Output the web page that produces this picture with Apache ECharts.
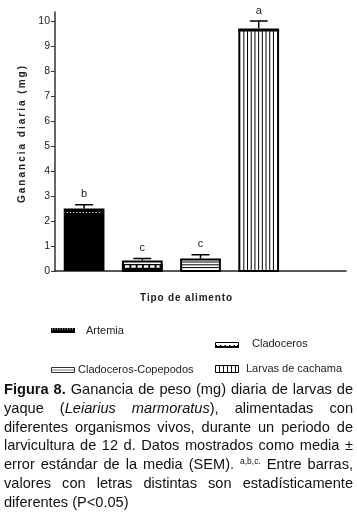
<!DOCTYPE html>
<html>
<head>
<meta charset="utf-8">
<script src="https://cdn.jsdelivr.net/npm/echarts@6/dist/echarts.min.js"></script>
<style>
html, body { margin: 0; padding: 0; background: #fff; }
#chart { width: 357px; height: 513px; }
</style>
</head>
<body>
<div id="chart"></div>
<script>
// datos
let foodTypes = ["Artemia", "Cladoceros", "Cladoceros-Copepodos", "Larvas de cachama"];
let dailyGain = [2.5, 0.42, 0.5, 9.7];
let gainSem = [0.15, 0.08, 0.15, 0.3];
let groupLetters = ["b", "c", "c", "a"];
let yTicks = [0, 1, 2, 3, 4, 5, 6, 7, 8, 9, 10];

const FONT = '"Liberation Sans", Arial, sans-serif';
const THIN = "\u2009";
const HAIR = "\u200A";

function spaced(str, sep) {
    return str.split("").join(sep);
}

// barra con su trama, barra de error y letra
function drawBar(params, api) {
    let i = params.dataIndex;
    let cat = api.value(0);
    let v = api.value(1);
    let e = api.value(2);
    let top = api.coord([cat, v]);
    let base = api.coord([cat, 0]);
    let errTop = api.coord([cat, v + e]);
    let w = api.size([1, 0])[0] * 0.7;
    let cx = top[0];
    let x = cx - w / 2;
    let h = base[1] - top[1];
    let kids = [];
    let blk = "#000";

    if (i === 0) {
        kids.push({type: "rect", shape: {x: x, y: top[1], width: w, height: h}, style: {fill: blk}});
        kids.push({type: "line", shape: {x1: x + 3, y1: top[1] + 4, x2: x + w - 3, y2: top[1] + 4},
            style: {stroke: "#fff", lineWidth: 1, lineDash: [1.2, 2]}});
    } else if (i === 1) {
        kids.push({type: "rect", shape: {x: x + 1, y: top[1] + 1, width: w - 2, height: h - 1},
            style: {fill: "#fff", stroke: blk, lineWidth: 2}});
        kids.push({type: "rect", shape: {x: x, y: base[1] - 7, width: w, height: 7}, style: {fill: blk}});
        kids.push({type: "line", shape: {x1: x + 3, y1: base[1] - 4.5, x2: x + w - 3, y2: base[1] - 4.5},
            style: {stroke: "#fff", lineWidth: 2.5, lineDash: [4.5, 1.8]}});
    } else if (i === 2) {
        kids.push({type: "rect", shape: {x: x + 1, y: top[1] + 1, width: w - 2, height: h - 1},
            style: {fill: "#fff", stroke: blk, lineWidth: 2}});
        for (let yy = top[1] + 3.5; yy < base[1] - 1; yy += 2.8) {
            kids.push({type: "line", shape: {x1: x + 2, y1: yy, x2: x + w - 2, y2: yy},
                style: {stroke: blk, lineWidth: 1}});
        }
    } else {
        kids.push({type: "rect", shape: {x: x + 1, y: top[1] + 1.5, width: w - 2, height: h - 1.5},
            style: {fill: "#fff", stroke: blk, lineWidth: 2}});
        kids.push({type: "line", shape: {x1: x, y1: top[1] + 1.5, x2: x + w, y2: top[1] + 1.5},
            style: {stroke: blk, lineWidth: 3}});
        for (let xx = x + 5.5; xx < x + w - 2; xx += 3.7) {
            kids.push({type: "line", shape: {x1: xx, y1: top[1] + 2, x2: xx, y2: base[1]},
                style: {stroke: blk, lineWidth: 1}});
        }
    }

    // error estandar
    kids.push({type: "line", shape: {x1: cx, y1: top[1], x2: cx, y2: errTop[1]},
        style: {stroke: blk, lineWidth: 1.5}});
    kids.push({type: "line", shape: {x1: cx - 9, y1: errTop[1], x2: cx + 9, y2: errTop[1]},
        style: {stroke: blk, lineWidth: 1.5}});
    kids.push({type: "text", style: {text: groupLetters[i], x: cx, y: errTop[1] - 5,
        align: "center", verticalAlign: "bottom", font: "11px " + FONT, fill: "#222"}});

    return {type: "group", children: kids};
}

// leyenda a mano (tramas distintas)
function legendGraphics() {
    let g = [];
    let blk = "#000";
    // Artemia
    g.push({type: "rect", shape: {x: 51, y: 328, width: 24, height: 5}, style: {fill: blk}});
    g.push({type: "line", shape: {x1: 52, y1: 329, x2: 74, y2: 329}, style: {stroke: "#fff", lineWidth: 1, lineDash: [1, 1.5]}});
    // Cladoceros
    g.push({type: "rect", shape: {x: 215.5, y: 342.5, width: 23, height: 5}, style: {fill: "#fff", stroke: blk, lineWidth: 1}});
    g.push({type: "rect", shape: {x: 215, y: 345, width: 24, height: 3}, style: {fill: blk}});
    g.push({type: "line", shape: {x1: 217, y1: 345.5, x2: 237, y2: 345.5}, style: {stroke: "#fff", lineWidth: 1.2, lineDash: [3, 1.5]}});
    // Cladoceros-Copepodos
    g.push({type: "rect", shape: {x: 51.5, y: 367.5, width: 23, height: 5}, style: {fill: "#fff", stroke: "#333", lineWidth: 1}});
    g.push({type: "line", shape: {x1: 52, y1: 370, x2: 74, y2: 370}, style: {stroke: "#555", lineWidth: 0.8}});
    // Larvas de cachama
    g.push({type: "rect", shape: {x: 215.5, y: 365.5, width: 23, height: 7}, style: {fill: "#fff", stroke: blk, lineWidth: 1}});
    for (let k = 1; k < 6; k++) {
        g.push({type: "line", shape: {x1: 215.5 + k * 4, y1: 365.5, x2: 215.5 + k * 4, y2: 372.5}, style: {stroke: blk, lineWidth: 1}});
    }
    let lt = [[foodTypes[0], 86, 331], [foodTypes[1], 252, 344], [foodTypes[2], 78, 370], [foodTypes[3], 246, 369]];
    lt.forEach(t => g.push({type: "text", style: {text: t[0], x: t[1], y: t[2], verticalAlign: "middle",
        font: "11px " + FONT, fill: "#222"}}));
    return g;
}

// pie de figura justificado
let captionLines = [
    [[["Figura", "b"]], [["8.", "b"]], "Ganancia", "de", "peso", "(mg)", "diaria", "de", "larvas", "de"],
    ["yaque", [["(", "n"], ["Leiarius", "i"]], [["marmoratus", "i"], ["),", "n"]], "alimentadas", "con"],
    "diferentes organismos vivos, durante un periodo de".split(" "),
    "larvicultura de 12 d. Datos mostrados como media \u00b1".split(" "),
    ["error", "estándar", "de", "la", "media", "(SEM).", [["a,b,c.", "s"]], "Entre", "barras,"],
    "valores con letras distintas son estadísticamente".split(" "),
    "diferentes (P<0.05)".split(" ")
];

const CAP_SIZE = 14.6;
function capFont(st) {
    if (st === "b") return "bold " + CAP_SIZE + "px " + FONT;
    if (st === "i") return "italic " + CAP_SIZE + "px " + FONT;
    if (st === "s") return "8.5px " + FONT;
    return CAP_SIZE + "px " + FONT;
}

function captionGraphics() {
    let ctx = document.createElement("canvas").getContext("2d");
    let out = [];
    let left = 4, right = 353, y0 = 390, lh = 18.8;
    captionLines.forEach((line, li) => {
        let toks = line.map(t => typeof t === "string" ? [[t, "n"]] : t);
        let widths = toks.map(t => t.reduce((s, seg) => {
            ctx.font = capFont(seg[1]);
            return s + ctx.measureText(seg[0]).width;
        }, 0));
        let total = widths.reduce((a, b) => a + b, 0);
        ctx.font = capFont("n");
        let gap = li === captionLines.length - 1 ? ctx.measureText(" ").width
            : (right - left - total) / (toks.length - 1);
        let xx = left;
        let yy = y0 + li * lh;
        toks.forEach((t, k) => {
            let sx = xx;
            t.forEach(seg => {
                ctx.font = capFont(seg[1]);
                out.push({type: "text", style: {text: seg[0], x: sx, y: seg[1] === "s" ? yy - 4 : yy,
                    verticalAlign: "middle", font: capFont(seg[1]), fill: "#111"}});
                sx += ctx.measureText(seg[0]).width;
            });
            xx += widths[k] + gap;
        });
    });
    return out;
}

let chart = echarts.init(document.getElementById("chart"));
let option = {
    animation: false,
    backgroundColor: "#fff",
    title: {
        text: spaced("Tipo de alimento", HAIR),
        left: 181,
        top: 288,
        textAlign: "center",
        textStyle: {fontFamily: FONT, fontSize: 10, fontWeight: "bold", color: "#222"}
    },
    grid: {left: 55, right: 11, top: 12, bottom: 242},
    xAxis: {
        type: "category",
        data: foodTypes.concat([""]),
        axisLine: {lineStyle: {color: "#222", width: 1.5}},
        axisTick: {show: false},
        axisLabel: {show: false}
    },
    yAxis: {
        type: "value",
        min: 0,
        max: 10.36,
        name: spaced("Ganancia diaria (mg)", THIN),
        nameLocation: "middle",
        nameRotate: 90,
        nameGap: 25,
        nameTextStyle: {fontFamily: FONT, fontSize: 10, fontWeight: "bold", color: "#222", padding: [0, 0, 0, 14]},
        splitLine: {show: false},
        axisLine: {show: true, lineStyle: {color: "#333", width: 1.5}},
        axisTick: {show: true, length: 4, customValues: yTicks, lineStyle: {color: "#333", width: 1}},
        axisLabel: {customValues: yTicks, margin: 5, fontFamily: FONT, fontSize: 10.5, color: "#222"}
    },
    series: [{
        type: "custom",
        name: "Ganancia diaria",
        renderItem: drawBar,
        clip: false,
        encode: {x: 0, y: 1},
        data: foodTypes.map((f, i) => [f, dailyGain[i], gainSem[i]])
    }],
    graphic: legendGraphics().concat(captionGraphics())
};
chart.setOption(option);
</script>
</body>
</html>
